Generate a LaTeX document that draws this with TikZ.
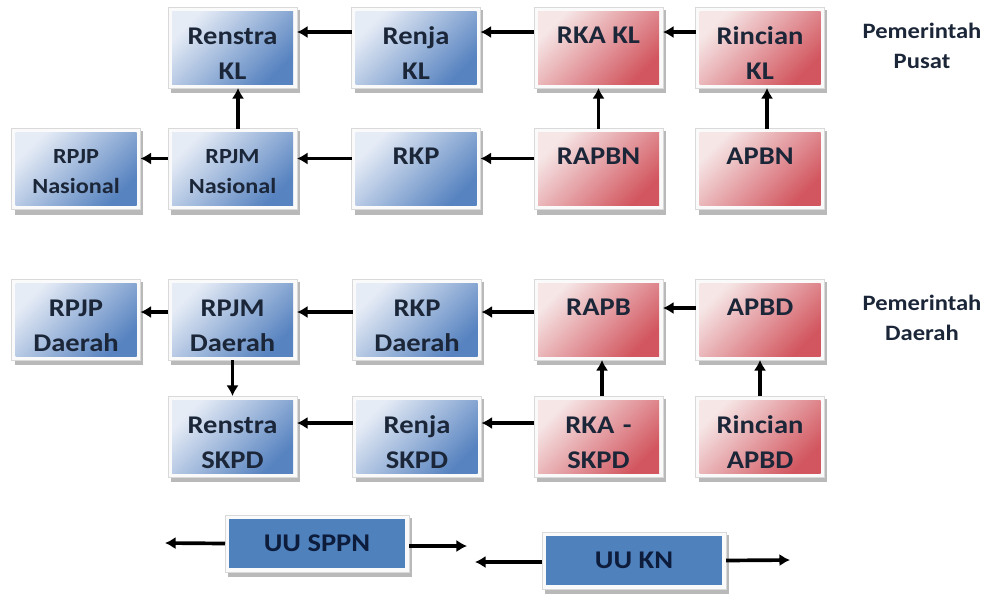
\documentclass[tikz,border=0pt]{standalone}
\usepackage{fontspec}
\setmainfont[FakeStretch=1.12]{Carlito}
\usepackage{tikz}
\usetikzlibrary{
	arrows.meta,									% 箭头
	backgrounds,									% 背景层
}

\definecolor{biruA}{HTML}{E6ECF6}
\definecolor{biruB}{HTML}{C0D0E8}
\definecolor{biruC}{HTML}{5783C0}
\definecolor{merahA}{HTML}{F6E6E6}
\definecolor{merahB}{HTML}{E6BBBD}
\definecolor{merahC}{HTML}{D2565F}
\definecolor{biruUU}{HTML}{4F81BD}
\definecolor{teks}{HTML}{1B2638}
\definecolor{teksUU}{HTML}{0E1C3C}

\tikzset{
	kotak/.style={minimum width=2.42cm, minimum height=1.46cm, inner sep=0pt, outer sep=0.08cm,
		align=center, text=teks, font=\bfseries\fontsize{14.5}{20}\selectfont},
	kotakbiru/.style={kotak, top color=biruA, middle color=biruB, bottom color=biruC, shading angle=45},
	kotakmerah/.style={kotak, top color=merahA, middle color=merahB, bottom color=merahC, shading angle=45},
	duabaris/.style={text width=2.3cm, text height=0.575cm},
	kecil/.style={font=\bfseries\fontsize{12.3}{17}\selectfont, text width=2.3cm, text height=0.4cm},
	teksatas/.style={text depth=0.5cm},
	kotakuu/.style={kotak, fill=biruUU, text=teksUU, minimum width=3.52cm, minimum height=0.98cm,
		font=\bfseries\fontsize{14.5}{17}\selectfont},
	keterangan/.style={align=center, text=teks, font=\bfseries\fontsize{12.5}{17}\selectfont},
	panah/.style={line width=2.1pt, -{Latex[length=6pt,width=7pt]}},
	bingkai/.style={fill=gray!4, draw=gray!30, line width=0.4pt},
	bayangan/.style={fill=gray!55},
}

\begin{document}
\begin{tikzpicture}
	\useasboundingbox (0,0) rectangle (19.84,-11.86);

	% Pemerintah Pusat
	\node[kotakbiru, duabaris] (renstrakl) at (4.65,-0.95) {Renstra\\KL};
	\node[kotakbiru, duabaris] (renjakl) at (8.32,-0.95) {Renja\\KL};
	\node[kotakmerah, teksatas] (rkakl) at (11.97,-0.95) {RKA KL};
	\node[kotakmerah, duabaris] (rinciankl) at (15.2,-0.95) {Rincian\\KL};
	\node[kotakbiru, kecil] (rpjpnas) at (1.52,-3.38) {RPJP\\Nasional};
	\node[kotakbiru, kecil] (rpjmnas) at (4.65,-3.38) {RPJM\\Nasional};
	\node[kotakbiru, teksatas] (rkp) at (8.32,-3.38) {RKP};
	\node[kotakmerah, teksatas] (rapbn) at (11.97,-3.38) {RAPBN};
	\node[kotakmerah, teksatas] (apbn) at (15.2,-3.38) {APBN};
	\node[keterangan] (pusat) at (18.44,-0.92) {Pemerintah\\Pusat};

	% Pemerintah Daerah
	\node[kotakbiru, duabaris] (rpjpdaerah) at (1.52,-6.39) {RPJP\\Daerah};
	\node[kotakbiru, duabaris] (rpjmdaerah) at (4.65,-6.39) {RPJM\\Daerah};
	\node[kotakbiru, duabaris] (rkpdaerah) at (8.34,-6.39) {RKP\\Daerah};
	\node[kotakmerah, teksatas] (rapb) at (11.97,-6.39) {RAPB};
	\node[kotakmerah, teksatas] (apbd) at (15.2,-6.39) {APBD};
	\node[kotakbiru, duabaris] (renstraskpd) at (4.65,-8.73) {Renstra\\SKPD};
	\node[kotakbiru, duabaris] (renjaskpd) at (8.34,-8.73) {Renja\\SKPD};
	\node[kotakmerah, duabaris] (rkaskpd) at (11.97,-8.73) {RKA -\\SKPD};
	\node[kotakmerah, duabaris] (rincianapbd) at (15.2,-8.73) {Rincian\\APBD};
	\node[keterangan] (daerah) at (18.44,-6.36) {Pemerintah\\Daerah};

	% Undang-undang
	\node[kotakuu] (uusppn) at (6.34,-10.87) {UU SPPN};
	\node[kotakuu] (uukn) at (12.68,-11.21) {UU KN};
	\coordinate (sppnkiri) at (3.30,-10.86);
	\coordinate (sppnkanan) at (9.34,-10.92);
	\coordinate (knkiri) at (9.50,-11.24);
	\coordinate (knkanan) at (15.80,-11.20);

	\begin{scope}[on background layer]
		\foreach \n in {renstrakl,renjakl,rkakl,rinciankl,rpjpnas,rpjmnas,rkp,rapbn,apbn,
			rpjpdaerah,rpjmdaerah,rkpdaerah,rapb,apbd,renstraskpd,renjaskpd,rkaskpd,rincianapbd,uusppn,uukn}{
			\fill[bayangan] ([shift={(0.06,-0.1)}]\n.south west) rectangle ([shift={(0.05,-0.05)}]\n.north east);
			\filldraw[bingkai] (\n.south west) rectangle (\n.north east);
		}
	\end{scope}

	\draw[panah] ([yshift=-0.5cm]renjakl.north west) -- ([yshift=-0.5cm]renstrakl.north east);
	\draw[panah] ([yshift=-0.5cm]rkakl.north west) -- ([yshift=-0.5cm]renjakl.north east);
	\draw[panah] ([yshift=-0.5cm]rinciankl.north west) -- ([yshift=-0.5cm]rkakl.north east);
	\draw[panah] ([yshift=-0.6cm]rpjmnas.north west) -- ([yshift=-0.6cm]rpjpnas.north east);
	\draw[panah] ([yshift=-0.6cm]rkp.north west) -- ([yshift=-0.6cm]rpjmnas.north east);
	\draw[panah] ([yshift=-0.6cm]rapbn.north west) -- ([yshift=-0.6cm]rkp.north east);
	\draw[panah] ([xshift=0.11cm]rpjmnas.north) -- ([xshift=0.11cm]renstrakl.south);
	\draw[panah] (rapbn.north) -- (rkakl.south);
	\draw[panah] ([xshift=0.14cm]apbn.north) -- ([xshift=0.14cm]rinciankl.south);

	\draw[panah] ([yshift=-0.66cm]rpjmdaerah.north west) -- ([yshift=-0.66cm]rpjpdaerah.north east);
	\draw[panah] ([yshift=-0.66cm]rkpdaerah.north west) -- ([yshift=-0.66cm]rpjmdaerah.north east);
	\draw[panah] ([yshift=-0.66cm]rapb.north west) -- ([yshift=-0.66cm]rkpdaerah.north east);
	\draw[panah] ([yshift=-0.58cm]apbd.north west) -- ([yshift=-0.58cm]rapb.north east);
	\draw[panah] (rpjmdaerah.south) -- (renstraskpd.north);
	\draw[panah] ([xshift=0.07cm]rkaskpd.north) -- ([xshift=0.07cm]rapb.south);
	\draw[panah] (rincianapbd.north) -- (apbd.south);
	\draw[panah] ([yshift=-0.54cm]renjaskpd.north west) -- ([yshift=-0.54cm]renstraskpd.north east);
	\draw[panah] ([yshift=-0.54cm]rkaskpd.north west) -- ([yshift=-0.54cm]renjaskpd.north east);

	\draw[panah] (uusppn.west) -- (sppnkiri);
	\draw[panah] ([yshift=-0.05cm]uusppn.east) -- (sppnkanan);
	\draw[panah] ([yshift=-0.03cm]uukn.west) -- (knkiri);
	\draw[panah] (uukn.east) -- (knkanan);
\end{tikzpicture}
\end{document}
